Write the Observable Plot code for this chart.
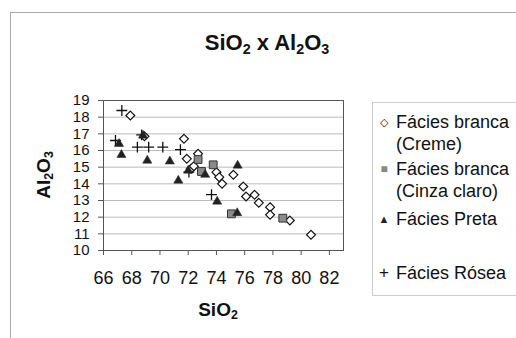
<!DOCTYPE html>
<html>
<head>
<meta charset="utf-8">
<script src="https://cdn.jsdelivr.net/npm/d3@7"></script>
<script src="https://cdn.jsdelivr.net/npm/@observablehq/plot@0.6"></script>
<style>
  html, body { margin: 0; padding: 0; background: #fff; }
  #wrap { position: relative; width: 516px; height: 338px; overflow: hidden; font-family: "Liberation Sans", Arial, sans-serif; color: #111; }
  #wrap svg { position: absolute; left: 0; top: 0; }
  .border { position: absolute; left: 10px; top: 12px; width: 520px; height: 340px; border-left: 1px solid #aaa; border-top: 1px solid #aaa; }
  .title { position: absolute; left: 0; width: 534px; top: 30px; text-align: center; font-weight: bold; font-size: 22px; }
  .xlabel { position: absolute; left: 168px; width: 100px; top: 299px; text-align: center; font-weight: bold; font-size: 19px; }
  .ylabel { position: absolute; left: 44px; top: 175px; font-weight: bold; font-size: 19px; transform: translate(-50%, -50%) rotate(-90deg); white-space: nowrap; }
  sub { font-size: 0.65em; vertical-align: -0.25em; line-height: 0; }
  .legend { position: absolute; left: 372px; top: 102px; width: 160px; height: 192px; border: 1px solid #ccc; font-size: 18px; }
  .legend .item { position: absolute; left: 0; white-space: nowrap; }
  .legend .sym { position: absolute; left: 4px; width: 14px; text-align: center; }
  .legend .txt { position: absolute; left: 23px; line-height: 22px; }
</style>
</head>
<body>
<div id="wrap">
  <div class="border"></div>
</div>
<script>
// Data
const xTicks = [66, 68, 70, 72, 74, 76, 78, 80, 82];
const yTicks = [10, 11, 12, 13, 14, 15, 16, 17, 18, 19];

const seriesNames = ["Fácies branca (Creme)", "Fácies branca (Cinza claro)", "Fácies Preta", "Fácies Rósea"];

const cremeSiO2  = [67.9, 68.9, 71.7, 71.9, 72.2, 72.4, 72.7, 74.0, 74.2, 74.4, 75.2, 75.9, 76.1, 76.7, 77.0, 77.8, 77.8, 79.2, 80.7];
const cremeAl2O3 = [18.1, 16.85, 16.7, 15.5, 14.9, 15.06, 15.8, 14.7, 14.4, 14.0, 14.54, 13.84, 13.24, 13.34, 12.86, 12.6, 12.14, 11.8, 10.94];

const cinzaSiO2  = [72.7, 72.94, 73.77, 75.06, 78.7];
const cinzaAl2O3 = [15.46, 14.74, 15.14, 12.2, 11.94];

const pretaSiO2  = [67.1, 67.27, 68.8, 69.1, 70.7, 71.3, 72.0, 73.2, 74.05, 75.5, 75.47];
const pretaAl2O3 = [16.4, 15.74, 16.9, 15.4, 15.35, 14.2, 14.8, 14.55, 12.94, 15.1, 12.25];

const roseaSiO2  = [67.3, 66.85, 68.7, 68.4, 69.2, 70.2, 71.45, 72.05, 73.65];
const roseaAl2O3 = [18.4, 16.6, 16.94, 16.2, 16.2, 16.2, 16.05, 14.7, 13.35];

const zip = (xs, ys) => xs.map((x, i) => ({SiO2: x, Al2O3: ys[i]}));
const creme = zip(cremeSiO2, cremeAl2O3);
const cinza = zip(cinzaSiO2, cinzaAl2O3);
const preta = zip(pretaSiO2, pretaAl2O3);
const rosea = zip(roseaSiO2, roseaAl2O3);

const chart = Plot.plot({
  width: 516,
  height: 338,
  marginLeft: 103,
  marginRight: 173,
  marginTop: 100,
  marginBottom: 88,
  style: {fontFamily: "'Liberation Sans', Arial, sans-serif", fontSize: "17px", color: "#111", background: "transparent"},
  x: {domain: [66, 83], label: null},
  y: {domain: [10, 19], label: null},
  marks: [
    Plot.gridY(yTicks, {stroke: "#bbb", strokeOpacity: 1}),
    Plot.frame({stroke: "#555"}),
    Plot.axisX(xTicks, {tickSize: 5, tickPadding: 16, fontSize: 18, stroke: "#555", label: null}),
    Plot.axisY(yTicks, {tickSize: 5, tickPadding: 9, fontSize: 15, stroke: "#555", label: null}),
    Plot.dot(rosea, {x: "SiO2", y: "Al2O3", symbol: "plus", r: 3.6, stroke: "#111", strokeWidth: 1.3}),
    Plot.dot(creme, {x: "SiO2", y: "Al2O3", symbol: "diamond2", r: 4, fill: "#fff", stroke: "#111", strokeWidth: 1.2}),
    Plot.dot(cinza, {x: "SiO2", y: "Al2O3", symbol: "square", r: 4.4, fill: "#8a8a8a", stroke: "#333", strokeWidth: 1}),
    Plot.dot(preta, {x: "SiO2", y: "Al2O3", symbol: "triangle", r: 3.4, fill: "#222", stroke: "#222", strokeWidth: 0.5})
  ]
});

const wrap = document.getElementById("wrap");
wrap.appendChild(chart);

function addDiv(cls, html) {
  const d = document.createElement("div");
  d.className = cls;
  d.innerHTML = html;
  wrap.appendChild(d);
  return d;
}
addDiv("title", "SiO<sub>2</sub> x Al<sub>2</sub>O<sub>3</sub>");
addDiv("xlabel", "SiO<sub>2</sub>");
addDiv("ylabel", "Al<sub>2</sub>O<sub>3</sub>");

const legend = addDiv("legend", "");
const items = [
  {sym: "◇", lines: ["Fácies branca", "(Creme)"], top: 8, size: "11px", color: "#111"},
  {sym: "■", lines: ["Fácies branca", "(Cinza claro)"], top: 55, size: "12px", color: "#888"},
  {sym: "▲", lines: ["Fácies Preta"], top: 105, size: "11px", color: "#222"},
  {sym: "+", lines: ["Fácies Rósea"], top: 159, size: "17px", color: "#111"}
];
items.forEach(it => {
  const d = document.createElement("div");
  d.className = "item";
  d.style.top = it.top + "px";
  d.innerHTML = `<span class="sym" style="font-size:${it.size};color:${it.color};line-height:22px;">${it.sym}</span><span class="txt">${it.lines.join("<br>")}</span>`;
  legend.appendChild(d);
});
</script>
</body>
</html>
